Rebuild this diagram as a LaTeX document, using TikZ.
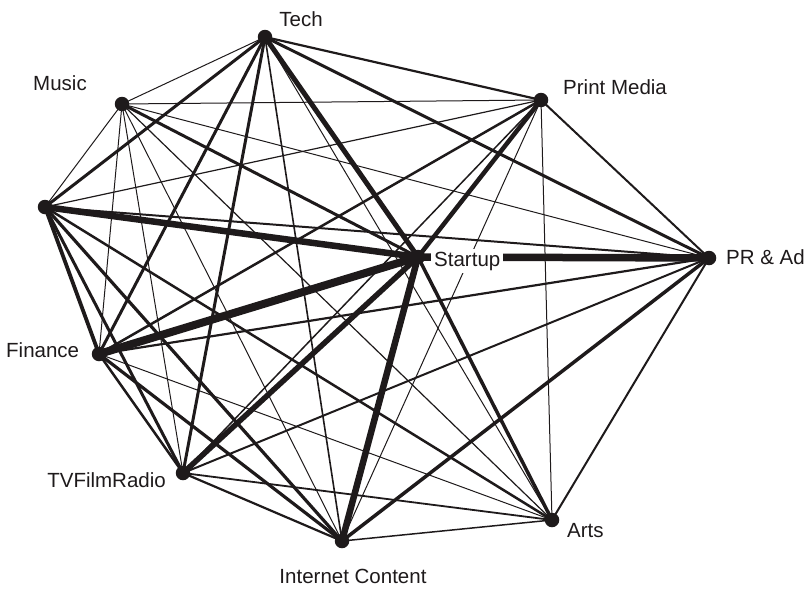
\documentclass[tikz,border=0pt]{standalone}
\usepackage{fontspec}
\setmainfont{Liberation Sans}
\definecolor{ink}{RGB}{30,26,27}
\pgfdeclarelayer{edges}
\pgfsetlayers{edges,main}
\tikzset{
  dot/.style={circle, fill=ink, draw=none, minimum size=14.5pt, inner sep=0pt},
  lab/.style={text=ink, inner sep=0pt, font=\fontsize{20.5}{24}\selectfont},
  tie/.style={draw=ink, line cap=butt},
}
\begin{document}
\begin{tikzpicture}[x=1pt, y=-1pt]
\useasboundingbox (0,0) rectangle (811,589);

% actors
\node[dot] (tech) at (265,37) {};
\node[dot] (mus)  at (122,104) {};
\node[dot] (prt)  at (541,100) {};
\node[dot] (lft)  at (45,207) {};
\node[dot] (st)   at (418,257) {};
\node[dot] (pr)   at (709,258) {};
\node[dot] (fin)  at (99,354) {};
\node[dot] (tv)   at (183,473) {};
\node[dot] (inet) at (342,541) {};
\node[dot] (arts) at (552,520) {};

% ties, line width = tie strength
\begin{pgfonlayer}{edges}
\foreach \a/\b/\w in {
  tech/mus/1, tech/lft/3, tech/prt/2.2, tech/st/5, tech/pr/3, tech/fin/3,
  tech/tv/3, tech/inet/1.6, tech/arts/1,
  mus/lft/1, mus/prt/1, mus/st/3, mus/pr/1, mus/fin/1, mus/tv/1,
  mus/inet/1, mus/arts/1.2,
  prt/lft/1.2, prt/st/4.5, prt/pr/2, prt/fin/2.5, prt/tv/1.5, prt/inet/1,
  prt/arts/1,
  lft/st/6.5, lft/pr/2, lft/fin/3.8, lft/tv/3, lft/inet/3.2, lft/arts/2.5,
  st/pr/7.5, st/fin/8, st/tv/5.5, st/inet/6.5, st/arts/3.5,
  pr/fin/2.2, pr/tv/2, pr/inet/3.5, pr/arts/2,
  fin/tv/2.5, fin/inet/3.2, fin/arts/1,
  tv/inet/2.2, tv/arts/1.8,
  inet/arts/1.5}
  \draw[tie, line width=\w pt] (\a.center) -- (\b.center);
\end{pgfonlayer}

% names
\node[lab, anchor=base]      (techL) at (301,26)  {Tech};
\node[lab, anchor=base]      (musL)  at (60,90)   {Music};
\node[lab, anchor=base west] (prtL)  at (563,94)  {Print Media};
\node[lab, anchor=base west] (prL)   at (726,264) {PR \& Ad};
\node[lab, anchor=base west, fill=white, inner xsep=3pt, inner ysep=3pt] (stL) at (431,266) {Startup};
\node[lab, anchor=base west] (finL)  at (6,357)   {Finance};
\node[lab, anchor=base east] (tvL)   at (166,487) {TVFilmRadio};
\node[lab, anchor=base]      (inetL) at (353,583) {Internet Content};
\node[lab, anchor=base west] (artsL) at (567,537) {Arts};
\end{tikzpicture}
\end{document}
